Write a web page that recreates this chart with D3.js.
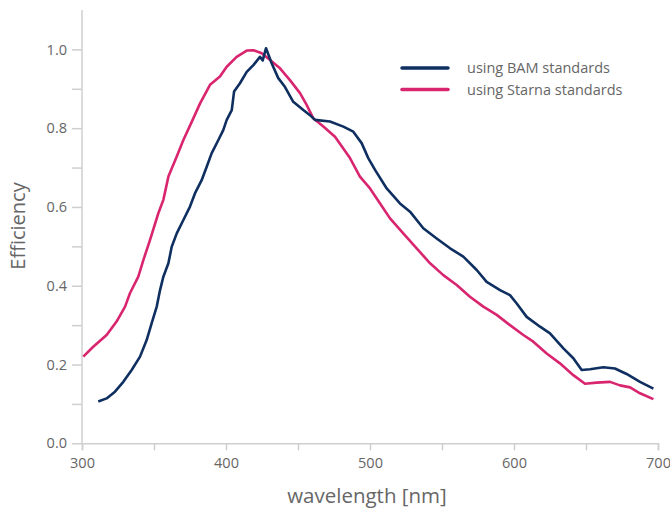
<!DOCTYPE html>
<html><head><meta charset="utf-8">
<script src="https://cdn.jsdelivr.net/npm/d3@7"></script>
<style>body{margin:0;background:#fff}svg{display:block}text{font-family:"Open Sans",sans-serif}</style>
</head><body><svg id="c" width="670" height="508"></svg>
<script>
const seriesNames = ["using BAM standards", "using Starna standards"];
const seriesColors = ["#0f2f60", "#d9256f"];
const bamX = [311.3,317.1,322.9,328.7,334.5,340.3,344.9,348.4,351.9,354.2,356.5,360,362.3,365.8,370.4,375,378.5,383.1,386.6,390,394.7,398.1,400.5,404,405.6,409.7,414.4,419,423.6,425.5,427.8,431.7,436.3,440.9,446.7,453.7,458.3,461.8,472.2,481.5,488.4,494.2,498.8,503.5,511.6,520.8,527.8,537,546.3,555.6,564.8,574.1,581,590.3,597.2,601.9,608.8,618.1,625,634.3,641.2,647,652.8,662,670.1,678.2,687.5,696.8];
const bamY = [0.106,0.114,0.131,0.156,0.186,0.22,0.262,0.305,0.347,0.389,0.423,0.457,0.499,0.533,0.567,0.601,0.635,0.668,0.702,0.736,0.770,0.795,0.821,0.846,0.893,0.914,0.943,0.96,0.981,0.972,1.003,0.965,0.927,0.905,0.867,0.846,0.833,0.821,0.817,0.804,0.791,0.762,0.724,0.694,0.647,0.609,0.588,0.546,0.520,0.495,0.474,0.44,0.41,0.389,0.376,0.355,0.321,0.296,0.279,0.241,0.216,0.186,0.188,0.193,0.19,0.176,0.156,0.139];
const starnaX = [300.9,307.8,317.1,324,329.9,333.3,339.1,342.6,347.2,353,356.5,360,365.8,370.4,376.2,382,388.9,395.8,400.5,407.4,414.4,419,424.8,430.6,437.5,444.4,451.4,456,460.6,467.6,475.7,486.1,493,500,507,513.9,523.1,532.4,541.7,550.9,560.2,569.4,578.7,588,597.2,606.5,613.4,622.7,631.9,641.2,649.3,657.4,666.7,673.6,680.6,687.5,696.8];
const starnaY = [0.22,0.245,0.275,0.309,0.347,0.381,0.423,0.465,0.516,0.584,0.618,0.677,0.728,0.770,0.816,0.863,0.91,0.931,0.956,0.981,0.997,0.998,0.99,0.973,0.952,0.922,0.889,0.859,0.825,0.804,0.778,0.724,0.677,0.647,0.609,0.571,0.533,0.495,0.457,0.427,0.402,0.372,0.347,0.326,0.30,0.275,0.258,0.228,0.203,0.173,0.151,0.154,0.156,0.147,0.142,0.127,0.112];
const xTicks = [300,400,500,600,700];
const yTicks = [0,0.2,0.4,0.6,0.8,1.0];

const svg = d3.select("#c");
const x = d3.scaleLinear().domain([300,700]).range([82,658]);
const y = d3.scaleLinear().domain([0,1.1]).range([443.3,10]);
const axisCol = "#cfcfcf", textCol = "#666";

const gx = svg.append("g").attr("transform","translate(0,443.3)")
  .call(d3.axisBottom(x).tickValues(d3.range(300,701,50)).tickSize(7).tickFormat(d => xTicks.includes(d) ? d : ""));
const gy = svg.append("g").attr("transform","translate(82,0)")
  .call(d3.axisLeft(y).tickValues(d3.range(0,11).map(i=>i/10)).tickSize(10)
    .tickFormat(d => yTicks.some(t=>Math.abs(t-d)<1e-9) ? d3.format(".1f")(d) : ""));
[gx,gy].forEach(g=>{
  g.select(".domain").attr("stroke",axisCol).attr("stroke-width",1.5);
  g.selectAll(".tick line").attr("stroke",axisCol).attr("stroke-width",1.5);
  g.selectAll(".tick text").attr("fill",textCol).style("font-size","14.5px").style("font-family","'Open Sans',sans-serif");
});
gx.selectAll(".tick text").attr("dy","1.0em");
gy.selectAll(".tick text").attr("dx","-2");
gy.select(".domain").attr("d","M0,443.3V10");

svg.append("text").attr("x",367).attr("y",503).attr("text-anchor","middle").attr("fill",textCol)
  .style("font-size","20.5px").text("wavelength [nm]");
svg.append("text").attr("transform","translate(25,226) rotate(-90)").attr("text-anchor","middle").attr("fill",textCol)
  .style("font-size","20px").text("Efficiency");

const line = d3.line().x(d=>x(d[0])).y(d=>y(d[1]));
const sets = [d3.zip(bamX,bamY), d3.zip(starnaX,starnaY)];
[1,0].forEach(i=>{
  svg.append("path").datum(sets[i]).attr("d",line).attr("fill","none")
    .attr("stroke",seriesColors[i]).attr("stroke-width",2.6).attr("stroke-linejoin","round");
});

seriesNames.forEach((n,i)=>{
  const ly = 68 + i*21.5;
  svg.append("line").attr("x1",402).attr("x2",448).attr("y1",ly).attr("y2",ly)
    .attr("stroke",seriesColors[i]).attr("stroke-width",3.5).attr("stroke-linecap","round");
  svg.append("text").attr("x",467).attr("y",ly+5).attr("fill",textCol).style("font-size","14.5px").text(n);
});
</script></body></html>
